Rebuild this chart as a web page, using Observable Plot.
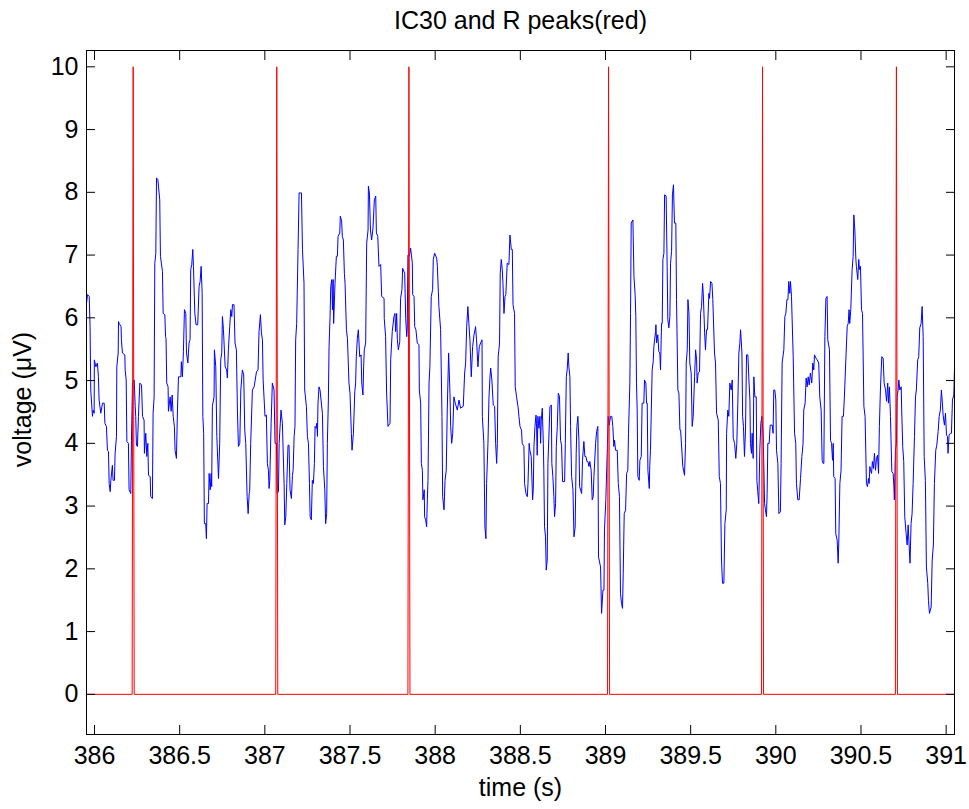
<!DOCTYPE html>
<html>
<head>
<meta charset="utf-8">
<script src="https://cdn.jsdelivr.net/npm/d3@7"></script>
<script src="https://cdn.jsdelivr.net/npm/@observablehq/plot@0.6"></script>
<style>
  body { margin: 0; background: #fff; }
  #chart svg { display: block; }
</style>
</head>
<body>
<div id="chart"></div>
<script>
const title = "IC30 and R peaks(red)";
const xLabel = "time (s)";
const yLabel = "voltage (\u03bcV)";
const xTicks = [386, 386.5, 387, 387.5, 388, 388.5, 389, 389.5, 390, 390.5, 391];
const yTicks = [0, 1, 2, 3, 4, 5, 6, 7, 8, 9, 10];
const xDomain = [385.953, 391.049];
const yDomain = [-0.64, 10.26];

// IC30 trace [time (s), voltage], by second
const ic30Sec386 = [[385.953,6.23],[385.959,6.37],[385.969,6.34],[385.974,5.86],[385.978,4.85],[385.988,4.43],[385.992,4.53],[385.998,4.48],[385.999,5.33],[386.008,5.22],[386.017,5.28],[386.023,5.06],[386.027,4.69],[386.037,4.48],[386.047,4.64],[386.057,4.64],[386.061,4.32],[386.070,4.27],[386.076,3.89],[386.082,3.87],[386.086,3.36],[386.092,3.23],[386.096,3.41],[386.105,3.65],[386.109,3.41],[386.117,3.41],[386.121,3.84],[386.129,4.11],[386.131,5.22],[386.139,5.44],[386.141,5.94],[386.145,5.91],[386.156,5.86],[386.158,5.65],[386.164,5.44],[386.178,5.41],[386.180,5.17],[386.186,5.01],[386.190,4.03],[386.199,4.00],[386.203,3.26],[386.213,3.20],[386.217,4.05],[386.223,4.96],[386.233,5.01],[386.239,4.59],[386.242,4.43],[386.246,3.97],[386.252,3.95],[386.258,4.43],[386.266,4.96],[386.276,4.93],[386.282,4.43],[386.291,4.37],[386.293,3.84],[386.301,4.16],[386.307,3.79],[386.313,4.00],[386.317,3.49],[386.327,3.47],[386.330,3.15],[386.340,3.12],[386.344,4.48],[386.350,4.74],[386.354,6.87],[386.360,7.03],[386.364,8.23],[386.372,8.20],[386.383,7.88],[386.387,6.98],[386.399,6.74],[386.403,6.07],[386.413,6.05],[386.417,5.70],[386.420,5.67],[386.424,4.96],[386.432,4.90],[386.434,4.51],[386.444,4.74],[386.450,4.51],[386.456,4.77],[386.462,4.43],[386.469,4.27],[386.473,3.89],[386.481,3.76],[386.487,4.53],[386.493,5.06],[386.507,5.06],[386.510,5.30],[386.516,5.06],[386.522,5.46],[386.528,6.13],[386.536,6.07],[386.540,5.44],[386.548,5.28],[386.555,5.60],[386.561,5.65],[386.565,6.77],[386.571,6.85],[386.577,7.09],[386.581,6.82],[386.589,6.07],[386.596,5.89],[386.606,5.89],[386.614,6.50],[386.620,6.58],[386.626,6.82],[386.632,6.39],[386.636,4.43],[386.641,4.16],[386.645,2.72],[386.653,2.72],[386.657,2.48],[386.661,3.04],[386.669,3.04],[386.673,3.52],[386.679,3.26],[386.685,3.52],[386.688,3.31],[386.692,4.59],[386.702,4.74],[386.704,5.49],[386.712,5.22],[386.718,4.11],[386.728,3.44],[386.735,4.00],[386.741,5.33],[386.747,5.44],[386.751,6.02],[386.757,5.81],[386.767,5.22],[386.776,5.17],[386.780,5.04],[386.786,5.49],[386.794,5.86],[386.800,6.13],[386.806,6.02],[386.810,6.21],[386.819,6.21],[386.825,5.60],[386.833,5.49],[386.839,4.53],[386.845,3.95],[386.853,4.00],[386.859,4.85],[386.868,5.17],[386.876,5.09],[386.882,4.21],[386.888,4.00],[386.896,3.15],[386.902,2.88],[386.908,3.20],[386.911,3.23],[386.917,4.00],[386.927,4.85],[386.937,4.90],[386.951,5.14],[386.960,5.17],[386.966,5.78],[386.974,6.05],[386.980,5.76],[386.986,5.65],[386.990,5.01]];

const ic30Sec387 = [[387.001,4.43],[387.009,4.45],[387.015,3.68],[387.021,3.57],[387.025,3.28],[387.029,3.41],[387.037,4.32],[387.044,4.96],[387.054,4.85],[387.060,4.00],[387.068,4.00],[387.072,3.20],[387.080,3.23],[387.084,4.00],[387.095,4.53],[387.103,4.32],[387.113,3.36],[387.117,2.70],[387.123,2.83],[387.129,3.36],[387.136,3.97],[387.142,3.97],[387.148,3.26],[387.156,3.12],[387.162,3.49],[387.166,3.57],[387.172,4.11],[387.177,4.27],[387.181,5.65],[387.187,5.91],[387.195,7.09],[387.201,7.99],[387.215,7.99],[387.221,7.09],[387.230,6.55],[387.234,4.85],[387.244,4.59],[387.250,4.11],[387.256,4.00],[387.262,3.36],[387.266,2.83],[387.273,2.78],[387.279,3.41],[387.285,3.36],[387.291,3.68],[387.295,4.27],[387.301,4.24],[387.305,4.32],[387.309,4.11],[387.312,4.64],[387.318,4.90],[387.324,4.85],[387.330,4.69],[387.338,4.48],[387.344,3.63],[387.352,3.26],[387.357,2.72],[387.363,2.88],[387.367,4.00],[387.373,4.69],[387.377,5.54],[387.383,6.02],[387.387,6.50],[387.393,6.61],[387.397,6.13],[387.401,6.61],[387.404,5.91],[387.412,6.55],[387.420,6.98],[387.426,6.98],[387.430,7.30],[387.440,7.35],[387.443,7.62],[387.451,7.54],[387.455,7.30],[387.461,7.24],[387.467,6.71],[387.471,6.55],[387.479,5.81],[387.485,5.67],[387.494,4.96],[387.500,4.80],[387.508,4.16],[387.512,3.89],[387.520,4.16],[387.528,4.82],[387.533,4.96],[387.537,5.38],[387.543,5.67],[387.549,5.81],[387.557,5.38],[387.565,5.41],[387.569,4.96],[387.576,4.77],[387.580,5.22],[387.584,5.49],[387.592,5.60],[387.598,7.19],[387.606,7.40],[387.608,8.10],[387.614,7.99],[387.620,7.40],[387.627,7.24],[387.635,7.43],[387.643,7.88],[387.651,7.94],[387.655,7.35],[387.663,7.30],[387.670,6.82],[387.680,6.85],[387.686,6.34],[387.700,6.31],[387.701,5.99],[387.709,5.70],[387.715,4.80],[387.723,4.27],[387.735,4.32],[387.739,5.33],[387.748,5.78],[387.758,6.02],[387.764,6.07],[387.768,5.78],[387.774,6.07],[387.778,5.65],[387.784,5.49],[387.792,5.62],[387.797,6.31],[387.805,6.45],[387.809,6.79],[387.821,6.71],[387.827,5.99],[387.833,5.70],[387.836,5.81],[387.840,7.00],[387.848,6.98],[387.856,7.11],[387.866,6.87],[387.868,6.37],[387.876,6.34],[387.880,5.86],[387.887,5.81],[387.895,5.60],[387.905,5.57],[387.907,4.85],[387.915,4.64],[387.919,3.68],[387.925,3.57],[387.928,3.10],[387.936,3.26],[387.938,2.83],[387.944,2.78],[387.950,2.67],[387.954,3.10],[387.958,3.41],[387.964,4.96],[387.969,5.22],[387.977,6.34],[387.985,6.45],[387.989,6.93],[387.997,7.03]];

const ic30Sec388 = [[388.009,6.95],[388.013,6.82],[388.022,6.18],[388.032,5.81],[388.040,4.43],[388.044,3.15],[388.052,2.94],[388.058,3.41],[388.065,3.57],[388.071,4.53],[388.079,5.44],[388.087,4.80],[388.091,4.27],[388.097,4.00],[388.103,4.16],[388.110,4.74],[388.118,4.64],[388.130,4.53],[388.140,4.69],[388.149,4.56],[388.165,4.59],[388.173,5.12],[388.179,5.28],[388.185,5.86],[388.192,6.18],[388.198,5.91],[388.204,5.65],[388.212,5.06],[388.220,5.54],[388.228,5.73],[388.234,5.81],[388.237,5.86],[388.243,5.65],[388.251,5.22],[388.259,5.54],[388.267,5.60],[388.275,5.65],[388.277,4.43],[388.286,4.00],[388.292,2.67],[388.298,2.48],[388.302,3.36],[388.310,4.00],[388.316,4.74],[388.322,5.06],[388.326,5.20],[388.333,5.01],[388.341,4.61],[388.349,4.59],[388.355,4.00],[388.361,3.68],[388.365,4.00],[388.370,5.38],[388.378,5.60],[388.382,6.71],[388.388,6.93],[388.394,6.77],[388.398,6.55],[388.404,6.07],[388.410,6.34],[388.415,6.37],[388.423,6.87],[388.433,6.85],[388.439,7.32],[388.447,7.09],[388.453,7.09],[388.457,6.21],[388.466,6.07],[388.470,4.90],[388.478,4.74],[388.486,4.59],[388.492,4.43],[388.498,4.27],[388.507,4.21],[388.511,4.00],[388.521,3.95],[388.525,3.36],[388.533,3.20],[388.541,3.15],[388.545,3.36],[388.552,4.00],[388.556,3.89],[388.564,3.79],[388.572,3.10],[388.576,3.26],[388.580,3.95],[388.586,4.27],[388.592,4.45],[388.595,4.32],[388.599,3.81],[388.603,4.43],[388.609,4.24],[388.615,4.43],[388.619,4.00],[388.623,4.37],[388.629,4.56],[388.635,4.00],[388.638,3.57],[388.642,2.67],[388.648,2.51],[388.652,1.98],[388.658,2.14],[388.662,3.68],[388.674,4.59],[388.682,4.61],[388.685,3.68],[388.691,3.47],[388.697,3.15],[388.701,2.83],[388.707,3.04],[388.711,3.95],[388.717,4.27],[388.723,4.80],[388.730,4.74],[388.736,4.05],[388.742,3.97],[388.748,3.39],[388.760,3.39],[388.764,4.00],[388.770,5.06],[388.775,5.17],[388.781,5.44],[388.785,5.22],[388.791,5.06],[388.795,4.27],[388.801,3.47],[388.809,3.26],[388.815,2.51],[388.822,2.67],[388.828,3.84],[388.832,4.27],[388.838,4.43],[388.844,4.05],[388.848,3.31],[388.860,3.20],[388.865,3.73],[388.873,4.03],[388.879,3.79],[388.885,3.79],[388.891,3.71],[388.897,3.71],[388.903,3.63],[388.908,3.71],[388.916,3.57],[388.922,3.10],[388.928,3.15],[388.932,3.47],[388.942,4.00],[388.948,4.19],[388.955,4.27],[388.959,2.19],[388.971,2.03],[388.977,1.29],[388.985,1.66],[388.991,1.66],[388.994,2.62]];

const ic30Sec389 = [[389.002,3.10],[389.010,3.84],[389.016,4.43],[389.022,4.29],[389.030,4.43],[389.037,4.43],[389.043,4.27],[389.049,3.95],[389.053,4.05],[389.059,3.89],[389.069,3.89],[389.075,3.36],[389.082,3.15],[389.088,1.61],[389.094,1.45],[389.100,1.37],[389.104,1.93],[389.110,2.88],[389.118,2.94],[389.124,3.52],[389.131,3.57],[389.135,4.16],[389.143,4.96],[389.147,6.07],[389.151,7.51],[389.161,7.56],[389.167,6.66],[389.174,6.37],[389.178,6.02],[389.182,4.96],[389.186,4.53],[389.190,3.47],[389.198,3.41],[389.202,3.73],[389.210,3.79],[389.215,4.64],[389.225,4.64],[389.229,5.01],[389.237,4.96],[389.241,4.64],[389.245,4.64],[389.249,3.57],[389.257,3.28],[389.260,3.65],[389.264,3.89],[389.274,5.17],[389.280,5.30],[389.284,5.54],[389.294,5.78],[389.296,5.89],[389.300,5.60],[389.307,5.73],[389.313,5.46],[389.319,5.44],[389.323,5.17],[389.329,5.91],[389.333,5.91],[389.337,6.93],[389.343,7.03],[389.347,7.96],[389.356,7.94],[389.362,6.82],[389.366,5.97],[389.372,5.84],[389.378,6.02],[389.382,6.87],[389.388,7.06],[389.393,7.96],[389.399,8.12],[389.405,7.51],[389.413,7.51],[389.417,6.29],[389.425,4.85],[389.431,4.80],[389.437,4.21],[389.441,4.21],[389.454,3.63],[389.464,3.49],[389.470,4.00],[389.474,5.28],[389.480,5.49],[389.484,6.29],[389.490,6.07],[389.495,5.28],[389.503,5.12],[389.509,4.27],[389.515,4.43],[389.523,5.06],[389.529,5.49],[389.535,5.33],[389.538,4.96],[389.544,5.12],[389.552,5.14],[389.558,6.07],[389.564,6.18],[389.570,6.55],[389.574,6.39],[389.582,5.76],[389.587,5.49],[389.593,5.81],[389.599,5.81],[389.607,6.39],[389.611,6.31],[389.617,6.58],[389.625,6.55],[389.630,6.29],[389.640,5.44],[389.646,5.28],[389.652,4.48],[389.662,4.37],[389.668,3.47],[389.675,3.36],[389.681,2.14],[389.687,1.77],[389.695,1.77],[389.701,2.72],[389.709,2.94],[389.711,4.16],[389.718,4.53],[389.724,4.43],[389.730,4.96],[389.738,4.85],[389.744,5.01],[389.750,4.08],[389.758,4.00],[389.765,3.76],[389.771,4.00],[389.777,4.64],[389.783,5.44],[389.789,5.60],[389.793,5.81],[389.801,5.44],[389.805,4.43],[389.810,4.27],[389.816,3.79],[389.822,4.21],[389.828,5.41],[389.836,5.41],[389.842,5.01],[389.848,4.69],[389.851,4.00],[389.857,3.84],[389.861,4.16],[389.867,3.76],[389.871,5.06],[389.877,4.74],[389.885,4.74],[389.889,3.41],[389.894,3.23],[389.900,3.04],[389.906,3.89],[389.912,4.32],[389.918,4.43],[389.926,4.11],[389.934,3.04],[389.939,2.94],[389.945,2.83],[389.949,3.20],[389.953,4.00],[389.961,4.00],[389.967,4.29],[389.979,4.29],[389.984,4.16],[389.988,4.85],[389.994,4.85]];

const ic30Sec390 = [[390.000,4.69],[390.004,3.89],[390.012,3.68],[390.018,2.88],[390.027,2.91],[390.031,3.68],[390.037,5.28],[390.047,5.49],[390.053,6.02],[390.059,6.07],[390.065,6.29],[390.071,6.29],[390.076,6.58],[390.082,6.39],[390.086,6.58],[390.092,6.34],[390.102,5.38],[390.110,4.16],[390.117,4.00],[390.121,3.36],[390.129,3.10],[390.137,3.10],[390.145,3.44],[390.153,3.79],[390.160,4.00],[390.164,4.53],[390.172,4.64],[390.178,5.04],[390.184,4.90],[390.190,5.06],[390.196,4.93],[390.203,5.12],[390.211,4.96],[390.217,5.28],[390.223,5.17],[390.227,5.41],[390.235,5.36],[390.243,5.33],[390.252,5.28],[390.258,4.74],[390.266,4.53],[390.272,3.73],[390.278,3.68],[390.282,3.68],[390.288,5.70],[390.294,6.31],[390.301,6.34],[390.305,5.65],[390.315,5.49],[390.321,4.05],[390.327,4.00],[390.333,3.73],[390.337,4.00],[390.340,3.47],[390.348,3.44],[390.352,2.56],[390.360,2.46],[390.366,2.09],[390.370,2.46],[390.376,3.36],[390.383,3.57],[390.389,4.43],[390.397,4.43],[390.403,4.77],[390.411,5.33],[390.419,5.86],[390.425,5.91],[390.430,6.13],[390.434,5.91],[390.440,6.13],[390.448,6.77],[390.454,6.98],[390.458,7.64],[390.464,7.40],[390.470,6.93],[390.473,6.82],[390.481,6.61],[390.487,6.93],[390.491,6.77],[390.497,6.82],[390.503,6.13],[390.509,6.07],[390.517,4.59],[390.524,4.43],[390.532,3.36],[390.538,3.31],[390.544,3.44],[390.548,3.36],[390.552,3.63],[390.556,3.57],[390.562,3.52],[390.567,3.71],[390.573,3.60],[390.579,3.84],[390.585,3.57],[390.591,3.76],[390.597,3.81],[390.603,3.52],[390.608,4.27],[390.614,4.85],[390.622,5.38],[390.630,5.36],[390.636,4.96],[390.644,4.85],[390.650,4.67],[390.657,4.96],[390.661,4.64],[390.667,4.90],[390.673,4.43],[390.681,3.55],[390.689,3.52],[390.693,3.31],[390.696,3.10],[390.702,3.89],[390.708,4.00],[390.712,4.74],[390.718,4.85],[390.722,5.01],[390.728,4.85],[390.736,4.90],[390.739,4.53],[390.745,3.95],[390.751,3.71],[390.757,2.83],[390.765,2.56],[390.771,2.38],[390.777,2.70],[390.783,2.35],[390.788,2.09],[390.794,2.72],[390.800,2.88],[390.806,3.36],[390.814,4.11],[390.820,4.74],[390.825,4.85],[390.833,5.33],[390.839,5.38],[390.845,5.84],[390.853,5.91],[390.859,6.18],[390.865,5.70],[390.871,3.79],[390.878,3.41],[390.884,2.03],[390.892,1.77],[390.896,1.50],[390.902,1.29],[390.912,1.39],[390.918,2.14],[390.925,2.38],[390.931,3.36],[390.939,3.89],[390.945,3.97],[390.953,4.19],[390.959,4.43],[390.966,4.53],[390.972,4.85],[390.978,4.64],[390.982,4.45],[390.990,4.29],[390.996,4.48],[391.002,4.13],[391.008,4.11],[391.011,3.84],[391.017,4.13],[391.025,4.16],[391.031,4.16],[391.037,4.69],[391.045,4.77],[391.049,5.20]];

// R peak marker series (red)
const rTime  = [385.953, 386.221, 386.227, 386.233, 387.064, 387.070, 387.076, 387.840, 387.846, 387.852, 389.012, 389.018, 389.024, 389.916, 389.922, 389.928, 390.702, 390.708, 390.714, 391.049];
const rValue = [0, 0, 10, 0, 0, 10, 0, 0, 10, 0, 0, 10, 0, 0, 10, 0, 0, 10, 0, 0];

const ic30 = [...ic30Sec386, ...ic30Sec387, ...ic30Sec388, ...ic30Sec389, ...ic30Sec390];

const font = "'Liberation Sans', Arial, Helvetica, sans-serif";
const fmt = d => `${d}`;

const chart = Plot.plot({
  width: 969,
  height: 809,
  marginLeft: 86,
  marginRight: 15,
  marginTop: 50,
  marginBottom: 75,
  style: { fontFamily: font, fontSize: "25px", background: "white", color: "black" },
  x: { domain: xDomain },
  y: { domain: yDomain },
  marks: [
    Plot.line(ic30, { x: d => d[0], y: d => d[1], stroke: "#0000ff", strokeWidth: 1 }),
    Plot.line(rTime, { x: rTime, y: rValue, stroke: "#ff0000", strokeWidth: 1 }),
    Plot.frame({ stroke: "black", strokeWidth: 1 }),
    Plot.axisX({ anchor: "bottom", ticks: xTicks, tickFormat: fmt, tickSize: 0, tickPadding: 12, label: null, fontSize: 25, fill: "black" }),
    Plot.axisY({ anchor: "left", ticks: yTicks, tickFormat: fmt, tickSize: 0, tickPadding: 8, label: null, fontSize: 25, fill: "black" }),
    Plot.axisX({ anchor: "bottom", ticks: xTicks, tickSize: 9, dy: -9, tickFormat: () => "", label: null }),
    Plot.axisX({ anchor: "top", ticks: xTicks, tickSize: 9, dy: 9, tickFormat: () => "", label: null }),
    Plot.axisY({ anchor: "left", ticks: yTicks, tickSize: 9, dx: 9, tickFormat: () => "", label: null }),
    Plot.axisY({ anchor: "right", ticks: yTicks, tickSize: 9, dx: -9, tickFormat: () => "", label: null }),
    Plot.text([title], { text: d => d, frameAnchor: "top", lineAnchor: "middle", textAnchor: "middle", dy: -30, fontSize: 25, fill: "black" }),
    Plot.text([xLabel], { text: d => d, frameAnchor: "bottom", lineAnchor: "middle", textAnchor: "middle", dy: 53, fontSize: 25, fill: "black" }),
    Plot.text([yLabel], { text: d => d, frameAnchor: "left", lineAnchor: "middle", textAnchor: "middle", dx: -64, dy: 7, rotate: -90, fontSize: 25, fill: "black" })
  ]
});

document.getElementById("chart").appendChild(chart);
</script>
</body>
</html>
